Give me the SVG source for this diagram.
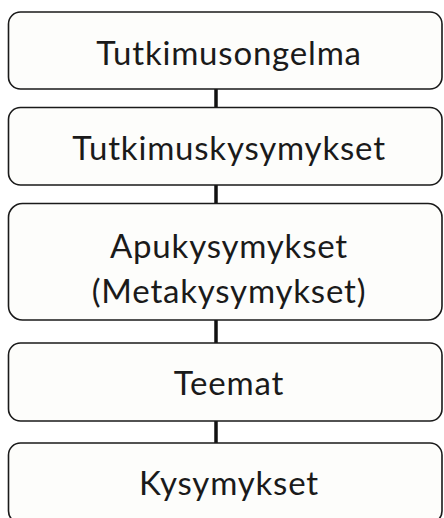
<svg xmlns="http://www.w3.org/2000/svg" width="444" height="518" viewBox="0 0 444 518">
  <style>
    .box { fill: #fdfdfb; stroke: #1a1a1a; stroke-width: 1.6; }
    .label { font-family: Lato, "Liberation Sans", sans-serif; font-size: 33px; letter-spacing: 0.8px; fill: #1a1a1a; text-anchor: middle; }
    .link { stroke: #111; stroke-width: 3.5; }
  </style>
  <rect width="444" height="518" fill="#ffffff"/>

  <!-- vertical connectors between the stacked boxes -->
  <g id="connectors">
    <line class="link" x1="216" y1="89" x2="216" y2="107"/>
    <line class="link" x1="216" y1="185" x2="216" y2="203"/>
    <line class="link" x1="216" y1="320" x2="216" y2="343"/>
    <line class="link" x1="216" y1="421" x2="216" y2="443"/>
  </g>

  <g id="tutkimusongelma">
    <rect class="box" x="8.5" y="12" width="433.5" height="77" rx="12"/>
    <text class="label" x="229" y="64.5">Tutkimusongelma</text>
  </g>

  <g id="tutkimuskysymykset">
    <rect class="box" x="8.5" y="107.5" width="433.5" height="77.5" rx="12"/>
    <text class="label" x="229" y="160">Tutkimuskysymykset</text>
  </g>

  <g id="apukysymykset">
    <rect class="box" x="8.5" y="203.5" width="433.5" height="116.5" rx="14"/>
    <text class="label" x="229" y="257.5">Apukysymykset</text>
    <text class="label" x="229" y="302.5">(Metakysymykset)</text>
  </g>

  <g id="teemat">
    <rect class="box" x="8.5" y="343" width="433.5" height="78" rx="12"/>
    <text class="label" x="229" y="395">Teemat</text>
  </g>

  <g id="kysymykset">
    <rect class="box" x="8.5" y="443" width="433.5" height="80" rx="12"/>
    <text class="label" x="229" y="495">Kysymykset</text>
  </g>
</svg>
